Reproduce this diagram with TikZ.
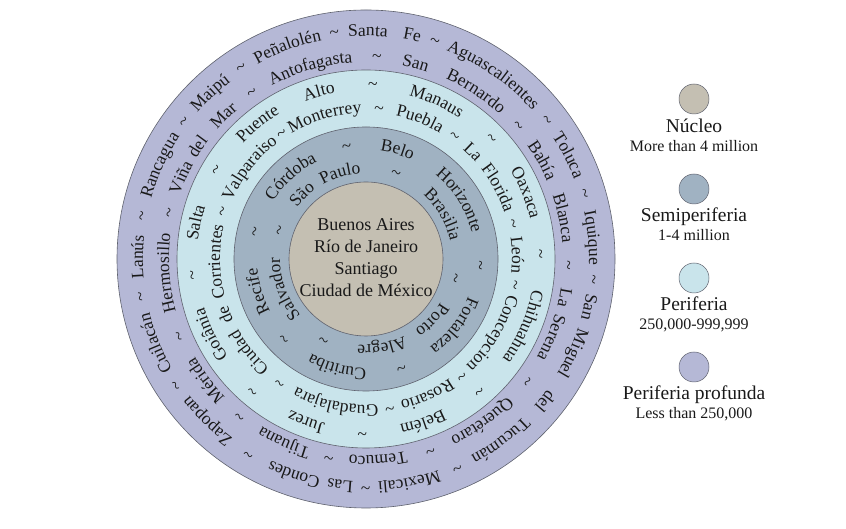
\documentclass[tikz,border=0pt]{standalone}
\usepackage{fontspec}
\setmainfont{Liberation Serif}
\usetikzlibrary{decorations.text}
\definecolor{nuc}{RGB}{196,191,178}
\definecolor{semi}{RGB}{160,178,194}
\definecolor{peri}{RGB}{201,228,235}
\definecolor{prof}{RGB}{181,184,214}
\definecolor{edge}{RGB}{95,98,110}
\definecolor{txt}{RGB}{25,25,25}
\newcommand{\tld}{\char"7E\relax}
\newcommand{\ringfont}{\fontsize{17.5}{20}\selectfont}
% word centred at angle #2 on a clockwise circle of baseline radius #1
\newcommand{\rw}[3]{\path[wordtext, decoration={text={|\ringfont|#3}}]
  (c) ++({#2+80}:#1pt) arc[start angle={#2+80}, end angle={#2-80}, radius=#1pt];}
\newcommand{\rt}[2]{\rw{#1}{#2}{{\tld}}}
\begin{document}
\begin{tikzpicture}[x=1pt,y=1pt,
  ringdisc/.style={circle, draw=edge, line width=0.6pt, inner sep=0pt},
  wordtext/.style={decorate, decoration={text along path, text align=center, text color=txt}},
  legdisc/.style={circle, draw=edge, line width=0.5pt, inner sep=0pt, minimum size=30pt},
  legtitle/.style={anchor=base, text=txt, font=\fontsize{19.5}{22}\selectfont},
  legsub/.style={anchor=base, text=txt, font=\fontsize{16}{18}\selectfont}]
\useasboundingbox (0,0) rectangle (846,529);
\coordinate (c) at (366,270);
\node[ringdisc, fill=prof, minimum size=498pt] (outer) at (c) {};
\node[ringdisc, fill=peri, minimum size=378pt] (perid) at (c) {};
\node[ringdisc, fill=semi, minimum size=264pt] (semid) at (c) {};
\node[ringdisc, fill=nuc, minimum size=154pt] (nucd) at (c) {};
% ---- periferia profunda, outer track (r = 223)
\rw{223}{110.3}{Peñalolén}\rt{223}{98.0}
\rw{223}{89.5}{Santa}\rw{223}{78.3}{Fe}\rt{223}{72.4}
\rw{223}{55.3}{Aguascalientes}\rt{223}{37.6}
\rw{223}{27.2}{Toluca}\rt{223}{16.6}
\rw{223}{5.3}{Iquique}\rt{223}{-5.2}
\rw{223}{-12.2}{San}\rw{223}{-24.5}{Miguel}\rw{223}{-38.4}{del}\rw{223}{-53.5}{Tucumán}\rt{223}{-66.5}
\rw{223}{-79.0}{Mexicali}\rt{223}{-90.1}
\rw{223}{-96.5}{Las}\rw{223}{-108.5}{Condes}\rt{223}{-121.0}
\rw{223}{-134.5}{Zapopan}\rt{223}{-146.3}
\rw{223}{-158.2}{Cuilacán}\rt{223}{-170.6}
\rw{223}{-180.5}{Lanús}\rt{223}{-190.9}
\rw{223}{-204.5}{Rancagua}\rt{223}{-217.1}
\rw{223}{-226.8}{Maipú}\rt{223}{-236.8}
% ---- periferia profunda, inner track (r = 197)
\rw{197}{106.2}{Antofagasta}\rt{197}{86.9}
\rw{197}{75.8}{San}\rw{197}{56.7}{Bernardo}\rt{197}{41.2}
\rw{197}{29.2}{Bahía}\rw{197}{11.8}{Blanca}\rt{197}{-1.7}
\rw{197}{-11.0}{La}\rw{197}{-23.0}{Serena}\rt{197}{-37.2}
\rw{197}{-54.5}{Querétaro}\rt{197}{-71.5}
\rw{197}{-86.6}{Temuco}\rt{197}{-100.6}
\rw{197}{-114.1}{Tijuana}\rt{197}{-128.7}
\rw{197}{-142.9}{Mérida}\rt{197}{-157.5}
\rw{197}{-176.0}{Hermosillo}\rt{197}{-193.1}
\rw{197}{-203.8}{Viña}\rw{197}{-213.7}{del}\rw{197}{-225.2}{Mar}\rt{197}{-235.6}
% ---- periferia, outer track (r = 169)
\rw{169}{128.7}{Puente}\rw{169}{105.7}{Alto}\rt{169}{87.8}
\rw{169}{65.9}{Manaus}\rt{169}{44.0}
\rw{169}{22.5}{Oaxaca}\rt{169}{1.5}
\rw{169}{-23.4}{Chihuahua}\rt{169}{-49.6}
\rw{169}{-70.8}{Belém}\rt{169}{-91.2}
\rw{169}{-110.2}{Jurez}\rt{169}{-130.6}
\rw{169}{-154.0}{Goiânia}\rt{169}{-174.7}
\rw{169}{-192.1}{Salta}\rt{169}{-210.7}
% ---- periferia, inner track (r = 146)
\rw{146}{106.2}{Monterrey}\rt{146}{85.1}
\rw{146}{69.0}{Puebla}\rt{146}{54.2}
\rw{146}{45.0}{La}\rw{146}{28.3}{Florida}\rt{146}{13.5}
\rw{146}{1.5}{León}\rt{146}{-10.0}
\rw{146}{-30.5}{Concepcion}\rt{146}{-50.9}
\rw{146}{-65.8}{Rosario}\rt{146}{-81.0}
\rw{146}{-101.8}{Guadalajara}\rt{146}{-124.8}
\rw{146}{-141.3}{Ciudad}\rw{146}{-158.4}{de}\rw{146}{-178.9}{Corrientes}\rt{146}{-198.2}
\rw{146}{-218.0}{Valparaiso}\rt{146}{-236.1}
% ---- semiperiferia, outer track (r = 109)
\rw{109}{132.4}{Córdoba}\rt{109}{99.7}
\rw{109}{73.9}{Belo}\rw{109}{32.1}{Horizonte}\rt{109}{-3.2}
\rw{109}{-37.2}{Fortaleza}\rt{109}{-72.0}
\rw{109}{-104.9}{Curitiba}\rt{109}{-135.6}
\rw{109}{-163.4}{Recife}\rt{109}{-193.7}
% ---- semiperiferia, inner track (r = 86)
\rw{86}{134.6}{São}\rw{86}{106.8}{Paulo}\rt{86}{70.8}
\rw{86}{30.1}{Brasilia}\rt{86}{-12.0}
\rw{86}{-42.7}{Porto}\rw{86}{-79.7}{Alegre}\rt{86}{-117.6}
\rw{86}{-160.0}{Salvador}\rt{86}{-198.4}
% ---- core
\node[align=center, text=txt, font=\fontsize{18}{22}\selectfont] (core) at (366,271)
  {Buenos Aires\\Río de Janeiro\\Santiago\\Ciudad de México};
% ---- legend
\node[legdisc, fill=nuc] (l1) at (694,430) {};
\node[legdisc, fill=semi] (l2) at (694,340) {};
\node[legdisc, fill=peri] (l3) at (694,251) {};
\node[legdisc, fill=prof] (l4) at (694,162) {};
\node[legtitle] (t1) at (694,396) {Núcleo};
\node[legsub] (s1) at (694,377) {More than 4 million};
\node[legtitle] (t2) at (694,307) {Semiperiferia};
\node[legsub] (s2) at (694,288) {1-4 million};
\node[legtitle] (t3) at (694,218) {Periferia};
\node[legsub] (s3) at (694,199) {250,000-999,999};
\node[legtitle] (t4) at (694,129) {Periferia profunda};
\node[legsub] (s4) at (694,110) {Less than 250,000};
\end{tikzpicture}
\end{document}
